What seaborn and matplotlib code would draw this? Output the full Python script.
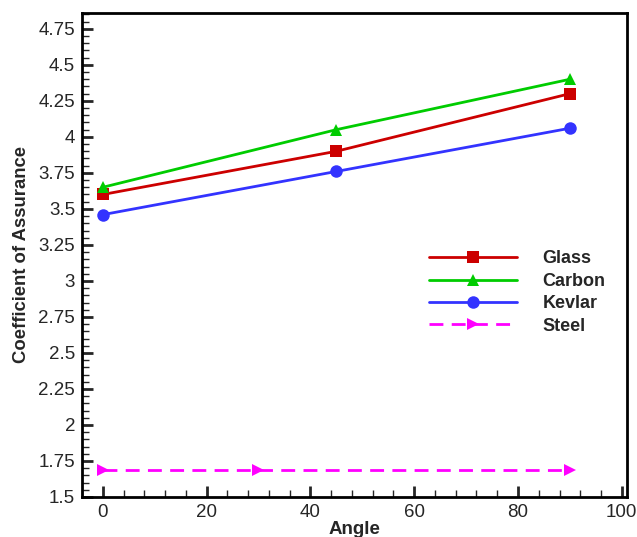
import matplotlib
matplotlib.use("Agg")
import matplotlib.pyplot as plt
import seaborn as sns
import pandas as pd
from matplotlib.ticker import MultipleLocator, FuncFormatter

angles = [0, 45, 90]
glass = [3.60, 3.90, 4.30]
carbon = [3.65, 4.05, 4.40]
kevlar = [3.46, 3.76, 4.06]
steel_angles = [0, 30, 90]
steel = [1.69, 1.69, 1.69]

sns.set_style("white")
plt.rcParams['font.family'] = ['Liberation Sans', 'DejaVu Sans']

fig = plt.figure(figsize=(6.37, 5.37), dpi=100)
ax = fig.add_axes([0.1287, 0.0745, 0.8556, 0.9013])

series = [
    ("Glass", angles, glass, "#cc0000", "s", "-", 8),
    ("Carbon", angles, carbon, "#00cc00", "^", "-", 9),
    ("Kevlar", angles, kevlar, "#3333ff", "o", "-", 9),
    ("Steel", steel_angles, steel, "#ff00ff", ">", (0, (5, 3)), 9),
]
for name, xs, ys, col, mk, ls, ms in series:
    df = pd.DataFrame({"Angle": xs, "val": ys})
    sns.lineplot(data=df, x="Angle", y="val", ax=ax, color=col, marker=mk,
                 markersize=ms, markeredgewidth=0, linewidth=2, label=name,
                 linestyle=ls)

ax.set_xlim(-4, 101)
ax.set_ylim(1.5, 4.86)
ax.xaxis.set_major_locator(MultipleLocator(20))
ax.xaxis.set_minor_locator(MultipleLocator(4))
ax.yaxis.set_major_locator(MultipleLocator(0.25))
ax.yaxis.set_minor_locator(MultipleLocator(0.05))
ax.yaxis.set_major_formatter(FuncFormatter(lambda v, p: f"{v:g}"))
ax.tick_params(which="major", direction="in", length=8, width=2, pad=5,
               labelsize=13.5, left=True, bottom=True, top=False, right=False)
ax.tick_params(which="minor", direction="in", length=5, width=1,
               left=True, bottom=True, top=False, right=False)
for s in ax.spines.values():
    s.set_linewidth(2)
    s.set_color("black")

ax.set_xlabel("Angle", fontsize=13.5, fontweight="bold", labelpad=0)
ax.set_ylabel("Coefficient of Assurance", fontsize=13.3, fontweight="bold", labelpad=6)

leg = ax.legend(loc="upper left", bbox_to_anchor=(0.62, 0.528), frameon=False,
                prop={"weight": "bold", "size": 13}, handlelength=4.9,
                labelspacing=0.3, handletextpad=1.4, borderpad=0)

fig.savefig("out.png", dpi=100)
